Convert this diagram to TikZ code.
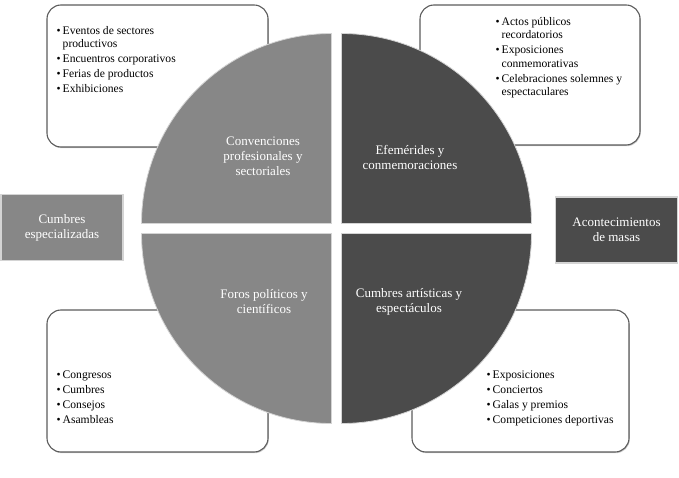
\documentclass[tikz,border=0pt]{standalone}
\usepackage{fontspec}
\setmainfont{Liberation Serif}
\usetikzlibrary{shadows}
\definecolor{evLight}{HTML}{878787}
\definecolor{evDark}{HTML}{4B4B4B}
\definecolor{evEdge}{HTML}{5C5C5C}
\definecolor{evRim}{HTML}{D4D4D4}

\begin{document}
\begin{tikzpicture}[
  x=1pt,y=1pt,
  listbox/.style={rectangle, rounded corners=14pt, draw=evEdge, fill=white,
                  line width=1.1pt, inner sep=0pt,
                  drop shadow={shadow xshift=.8pt, shadow yshift=-1.2pt,
                               fill=black!40}},
  itemtext/.style={font=\fontsize{11.6}{13.5}\selectfont, align=left,
                   anchor=north west, inner sep=0pt},
  quarter/.style={draw=evRim, line width=.8pt},
  qlabel/.style={font=\fontsize{13}{15}\selectfont, text=white,
                 align=center},
  sidebox/.style={rectangle, draw=evRim, line width=1.4pt,
                  minimum width=122pt, minimum height=66pt, text=white,
                  align=center, font=\fontsize{13}{15}\selectfont},
]
  \path[use as bounding box] (0,0) rectangle (679,477);

  % list boxes behind the circle
  \node[listbox, minimum width=221pt, minimum height=142pt] (boxConv) at (157.5,401) {};
  \node[listbox, minimum width=220pt, minimum height=140pt] (boxEfem) at (530,402) {};
  \node[listbox, minimum width=221pt, minimum height=142pt] (boxForos) at (157.5,96) {};
  \node[listbox, minimum width=217pt, minimum height=142pt] (boxArt) at (520.5,96) {};

  \node[itemtext] (listConv) at ([shift={(10,-20)}]boxConv.north west)
    {\begin{tabular}{@{}l@{\hspace{2pt}}l@{}}
      \textbullet & Eventos de sectores\\
                  & productivos\\[1.5pt]
      \textbullet & Encuentros corporativos\\[1.5pt]
      \textbullet & Ferias de productos\\[1.5pt]
      \textbullet & Exhibiciones
     \end{tabular}};
  \node[itemtext] (listEfem) at ([shift={(76,-11)}]boxEfem.north west)
    {\begin{tabular}{@{}l@{\hspace{2pt}}l@{}}
      \textbullet & Actos públicos\\
                  & recordatorios\\[1.5pt]
      \textbullet & Exposiciones\\
                  & conmemorativas\\[1.5pt]
      \textbullet & Celebraciones solemnes y\\
                  & espectaculares
     \end{tabular}};
  \node[itemtext] (listForos) at ([shift={(10,-59)}]boxForos.north west)
    {\begin{tabular}{@{}l@{\hspace{2pt}}l@{}}
      \textbullet & Congresos\\[1.5pt]
      \textbullet & Cumbres\\[1.5pt]
      \textbullet & Consejos\\[1.5pt]
      \textbullet & Asambleas
     \end{tabular}};
  \node[itemtext] (listArt) at ([shift={(75,-59)}]boxArt.north west)
    {\begin{tabular}{@{}l@{\hspace{2pt}}l@{}}
      \textbullet & Exposiciones\\[1.5pt]
      \textbullet & Conciertos\\[1.5pt]
      \textbullet & Galas y premios\\[1.5pt]
      \textbullet & Competiciones deportivas
     \end{tabular}};

  % four quarters of the circle
  \foreach \a/\tone in {0/evDark,90/evLight,180/evLight,270/evDark}
    \filldraw[quarter, fill=\tone] (336.5,248.5) ++(\a+45:7.07)
      -- ++(\a:190) arc[start angle=\a, end angle=\a+90, radius=190] -- cycle;

  \node[qlabel] (qConv) at (263,321) {Convenciones\\profesionales y\\sectoriales};
  \node[qlabel] (qEfem) at (410,320) {Efemérides y\\conmemoraciones};
  \node[qlabel] (qForos) at (264,175) {Foros políticos y\\científicos};
  \node[qlabel] (qArt) at (409,175) {Cumbres artísticas y\\espectáculos};

  % side labels
  \node[sidebox, fill=evLight] (sideCumbres) at (62,249.5) {Cumbres\\especializadas};
  \node[sidebox, fill=evDark] (sideMasas) at (616.5,247) {Acontecimientos\\de masas};
\end{tikzpicture}
\end{document}
